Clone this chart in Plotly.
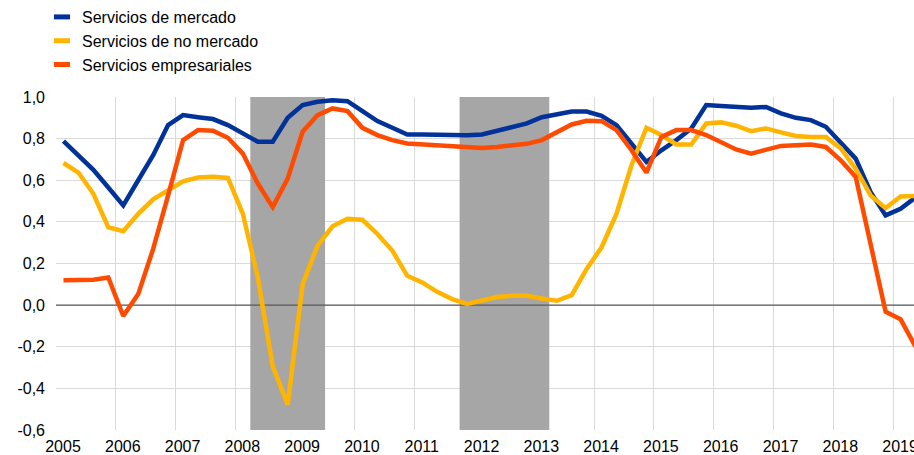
import plotly.graph_objects as go

quarters = [f"{y}Q{q}" for y in range(2005, 2020) for q in range(1, 5)][:58]

mercado = [0.788, 0.72, 0.65, 0.565, 0.479, 0.60, 0.72, 0.865, 0.913, 0.903, 0.894, 0.865,
           0.825, 0.785, 0.785, 0.90, 0.961, 0.977, 0.984, 0.98, 0.932, 0.884, 0.852, 0.82,
           0.82, 0.818, 0.816, 0.816, 0.82, 0.836, 0.852, 0.873, 0.903, 0.918, 0.93, 0.93,
           0.91, 0.865, 0.777, 0.688, 0.744, 0.793, 0.849, 0.961, 0.957, 0.952, 0.948, 0.952,
           0.921, 0.90, 0.889, 0.857, 0.777, 0.704, 0.543, 0.431, 0.463, 0.517]

no_mercado = [0.683, 0.637, 0.535, 0.374, 0.355, 0.439, 0.508, 0.551, 0.595, 0.613, 0.617, 0.611,
              0.439, 0.133, -0.293, -0.478, 0.101, 0.286, 0.379, 0.415, 0.41, 0.342, 0.262, 0.141,
              0.109, 0.064, 0.029, 0.006, 0.022, 0.039, 0.045, 0.045, 0.032, 0.021, 0.048, 0.174,
              0.278, 0.439, 0.672, 0.852, 0.817, 0.772, 0.772, 0.873, 0.878, 0.862, 0.836, 0.849,
              0.83, 0.813, 0.808, 0.808, 0.753, 0.656, 0.527, 0.466, 0.522, 0.525]

empresariales = [0.12, 0.12, 0.122, 0.133, -0.052, 0.053, 0.27, 0.527, 0.793, 0.841, 0.838, 0.804,
                 0.728, 0.584, 0.471, 0.608, 0.833, 0.913, 0.945, 0.932, 0.852, 0.817, 0.793, 0.777,
                 0.772, 0.768, 0.765, 0.76, 0.755, 0.76, 0.765, 0.775, 0.793, 0.83, 0.868, 0.886,
                 0.884, 0.841, 0.744, 0.637, 0.808, 0.841, 0.841, 0.817, 0.785, 0.748, 0.728, 0.748,
                 0.765, 0.768, 0.772, 0.76, 0.696, 0.616, 0.286, -0.032, -0.068, -0.2]

recessions = [(2008.25, 2009.5), (2011.75, 2013.25)]

year_ticks = list(range(2005, 2020))
y_ticks = [1.0, 0.8, 0.6, 0.4, 0.2, 0.0, -0.2, -0.4, -0.6]
y_labels = ["1,0", "0,8", "0,6", "0,4", "0,2", "0,0", "-0,2", "-0,4", "-0,6"]

series = [("Servicios de mercado", mercado, "#003299"),
          ("Servicios de no mercado", no_mercado, "#FFB400"),
          ("Servicios empresariales", empresariales, "#FF4B00")]

X_RANGE = [2005, 2019.35]
Y_RANGE = [-0.6, 1.0]


def qpos(label):
    y, q = label.split("Q")
    return int(y) + (int(q) - 1) * 0.25 + 0.125


x = [qpos(q) for q in quarters]

fig = go.Figure()
# shaded periods (filled traces so they sit above the gridlines)
for x0, x1 in recessions:
    fig.add_trace(go.Scatter(x=[x0, x1, x1, x0, x0],
                             y=[Y_RANGE[0], Y_RANGE[0], Y_RANGE[1], Y_RANGE[1], Y_RANGE[0]],
                             mode="lines", fill="toself", fillcolor="#A6A6A6",
                             line=dict(width=0, color="#A6A6A6"),
                             showlegend=False, hoverinfo="skip"))
# zero line
fig.add_trace(go.Scatter(x=X_RANGE, y=[0, 0], mode="lines",
                         line=dict(color="#595959", width=1.2),
                         showlegend=False, hoverinfo="skip"))

for name, vals, color in series:
    fig.add_trace(go.Scatter(x=x, y=vals, mode="lines", name=name, showlegend=False,
                             line=dict(color=color, width=4.5)))

# legend entries with short rectangular keys
for name, vals, color in series:
    fig.add_trace(go.Scatter(x=[None], y=[None], mode="markers", name=name,
                             marker=dict(symbol="line-ew", size=11.5,
                                         line=dict(color=color, width=6)),
                             hoverinfo="skip"))

font = "Liberation Sans, Arial, sans-serif"
fig.update_layout(
    width=914, height=455,
    margin=dict(l=56, r=0, t=97, b=25, autoexpand=False),
    paper_bgcolor="white", plot_bgcolor="white",
    font=dict(family=font, size=16, color="#000000"),
    showlegend=True,
    legend=dict(x=42 / 914, y=1.0, xref="container", yref="container",
                xanchor="left", yanchor="top", bgcolor="rgba(0,0,0,0)",
                font=dict(size=16), itemwidth=30, tracegroupgap=0),
    xaxis=dict(range=X_RANGE, tickvals=year_ticks, ticktext=[str(t) for t in year_ticks],
               showgrid=True, gridcolor="#D9D9D9", gridwidth=1, zeroline=False,
               showline=False, ticks="", ticklabelshift=7, ticklabelstandoff=5,
               ticklabeloverflow="allow", tickfont=dict(size=16)),
    yaxis=dict(range=Y_RANGE, tickvals=y_ticks, ticktext=y_labels,
               showgrid=True, gridcolor="#D9D9D9", gridwidth=1, zeroline=False,
               showline=False, ticks="", ticklabelstandoff=10, tickfont=dict(size=16)),
)

fig.write_html("out.html", config={"displayModeBar": False},
               post_script="document.body.style.margin='0';")
